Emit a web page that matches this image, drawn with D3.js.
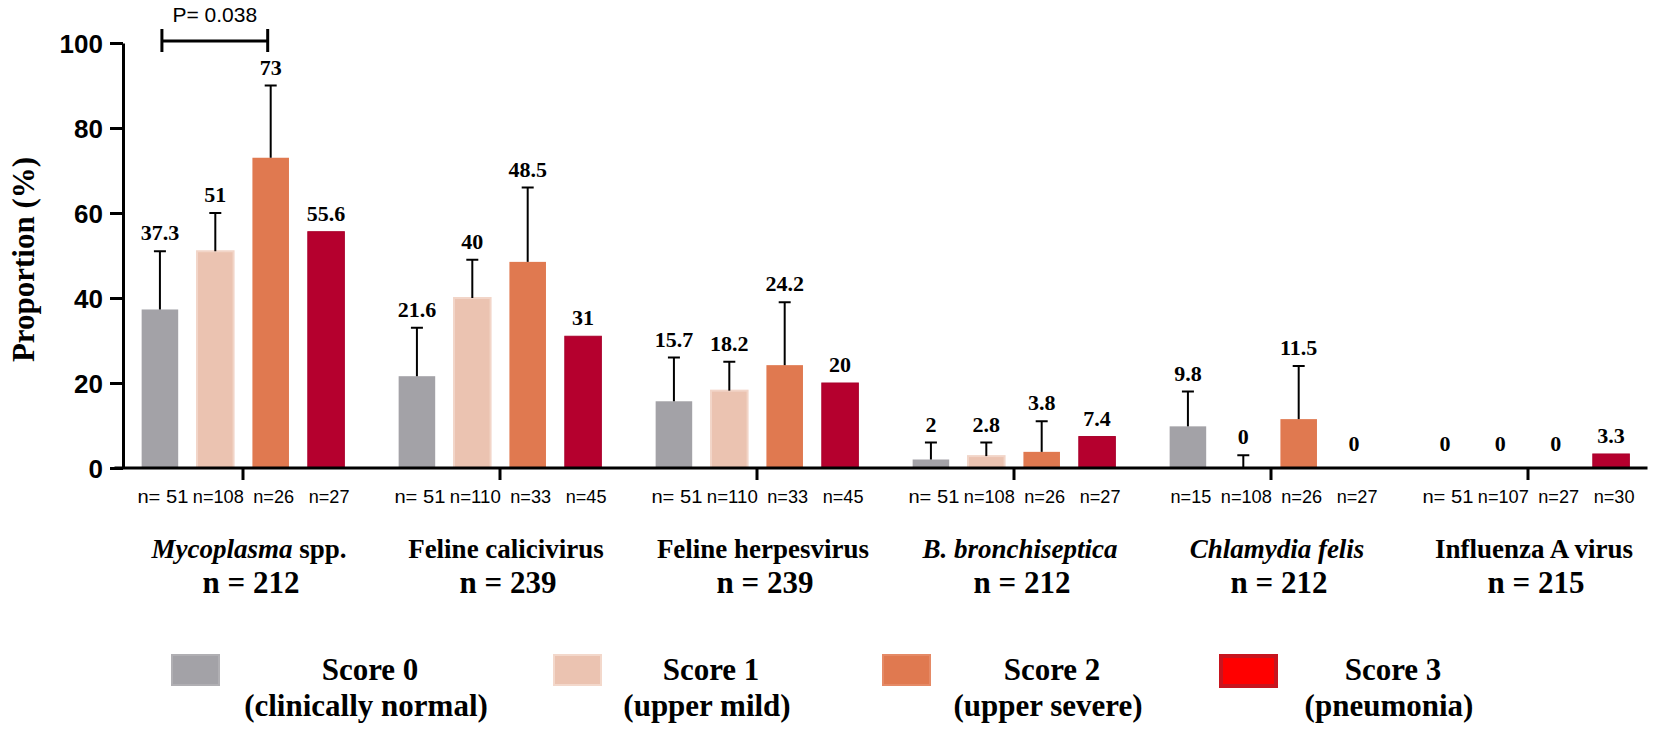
<!DOCTYPE html>
<html>
<head>
<meta charset="utf-8">
<script src="https://cdn.jsdelivr.net/npm/d3@7"></script>
<style>
  html, body { margin: 0; padding: 0; background: #fff; }
  svg { display: block; }
</style>
</head>
<body>
<svg id="chart" width="1654" height="737"></svg>
<script>
// Data
const groups = ['Mycoplasma spp.', 'Feline calicivirus', 'Feline herpesvirus', 'B. bronchiseptica', 'Chlamydia felis', 'Influenza A virus'];
const groupParts = [
    [['Mycoplasma', true], [' spp.', false]],
    [['Feline calicivirus', false]],
    [['Feline herpesvirus', false]],
    [['B. bronchiseptica', true]],
    [['Chlamydia felis', true]],
    [['Influenza A virus', false]]
];
const groupN = ['n = 212', 'n = 239', 'n = 239', 'n = 212', 'n = 212', 'n = 215'];

const scores = ['Score 0', 'Score 1', 'Score 2', 'Score 3'];
const scoreNotes = ['(clinically normal)', '(upper mild)', '(upper severe)', '(pneumonia)'];

const score0 = [37.3, 21.6, 15.7, 2, 9.8, 0];
const score1 = [51, 40, 18.2, 2.8, 0, 0];
const score2 = [73, 48.5, 24.2, 3.8, 11.5, 0];
const score3 = [55.6, 31, 20, 7.4, 0, 3.3];

// upper end of the error bars (null = none drawn)
const upper0 = [51, 33, 26, 6, 18, null];
const upper1 = [60, 49, 25, 6, 3, null];
const upper2 = [90, 66, 39, 11, 24, null];
const upper3 = [null, null, null, null, null, null];

// sample size under each bar
const n0 = ['n= 51', 'n= 51', 'n= 51', 'n= 51', 'n=15', 'n= 51'];
const n1 = ['n=108', 'n=110', 'n=110', 'n=108', 'n=108', 'n=107'];
const n2 = ['n=26', 'n=33', 'n=33', 'n=26', 'n=26', 'n=27'];
const n3 = ['n=27', 'n=45', 'n=45', 'n=27', 'n=27', 'n=30'];

const yTicks = [0, 20, 40, 60, 80, 100];
const pValue = 'P= 0.038';

// Styling
const barColors = ['#a3a2a7', '#ebc3b1', '#e07950', '#b5002e'];
const legendColors = ['#a3a2a7', '#ebc3b1', '#e07950', '#ff0000'];
const legendStroke = ['#b0afb3', '#f3d8cb', '#e58a66', '#c8141e'];
const legendSwatchX = [171, 553, 882, 1219];
const serif = "'Liberation Serif', 'Times New Roman', serif";
const sans = "'Liberation Sans', Arial, Helvetica, sans-serif";

(function () {
    'use strict';

    const values = [score0, score1, score2, score3];
    const uppers = [upper0, upper1, upper2, upper3];
    const ns = [n0, n1, n2, n3];

    const svg = d3.select('#chart');

    const y = d3.scaleLinear().domain([0, 100]).range([468, 43]);
    const x0 = d3.scaleBand().domain(groups).range([114.5, 1656.5]);
    const x1 = d3.scaleBand().domain(scores).range([0, x0.bandwidth()])
        .paddingInner(0.34).paddingOuter(0.49);
    const axisLeftX = 123;

    const bars = [];
    groups.forEach((g, gi) => {
        scores.forEach((s, si) => {
            bars.push({
                group: g, score: s, si: si,
                value: values[si][gi],
                upper: uppers[si][gi],
                n: ns[si][gi],
                cx: x0(g) + x1(s) + x1.bandwidth() / 2
            });
        });
    });

    // Bars
    svg.append('g')
        .selectAll('rect')
        .data(bars)
        .join('rect')
        .attr('x', d => x0(d.group) + x1(d.score))
        .attr('y', d => y(d.value))
        .attr('width', x1.bandwidth())
        .attr('height', d => y(0) - y(d.value))
        .attr('fill', d => barColors[d.si])
        .attr('stroke', d => d.si === 1 ? '#f2d5c8' : (d.si === 3 ? '#a8002b' : 'none'))
        .attr('stroke-width', d => d.si === 1 ? 2 : 1);

    // Error bars
    const err = svg.append('g')
        .selectAll('g')
        .data(bars.filter(d => d.upper != null))
        .join('g')
        .attr('stroke', '#000')
        .attr('stroke-width', 2);

    err.append('line')
        .attr('x1', d => d.cx).attr('x2', d => d.cx)
        .attr('y1', d => y(d.value)).attr('y2', d => y(d.upper));

    err.append('line')
        .attr('x1', d => d.cx - 6).attr('x2', d => d.cx + 6)
        .attr('y1', d => y(d.upper)).attr('y2', d => y(d.upper));

    // Value labels
    svg.append('g')
        .selectAll('text')
        .data(bars)
        .join('text')
        .attr('x', d => d.cx)
        .attr('y', d => {
            if (d.upper != null) return y(d.upper) - 11;
            if (d.value === 0) return y(0) - 17;
            return y(d.value) - 11;
        })
        .attr('text-anchor', 'middle')
        .attr('font-family', serif)
        .attr('font-weight', 'bold')
        .attr('font-size', '22px')
        .text(d => String(d.value));

    // X axis
    const xAxis = svg.append('g')
        .attr('transform', `translate(0,${y(0)})`)
        .call(d3.axisBottom(x0).tickSize(12).tickSizeOuter(0).tickFormat(''));
    xAxis.select('.domain')
        .attr('d', `M${x0.range()[0]},0H${x0.range()[1] - 9}`)
        .attr('stroke-width', 3);
    xAxis.selectAll('.tick line').attr('stroke-width', 3);

    // Y axis
    const yAxis = svg.append('g')
        .attr('transform', `translate(${axisLeftX},0)`)
        .call(d3.axisLeft(y).tickValues(yTicks).tickSize(13).tickSizeOuter(0).tickPadding(7));
    yAxis.select('.domain').attr('stroke-width', 3);
    yAxis.selectAll('.tick line').attr('stroke-width', 3);
    yAxis.selectAll('.tick text')
        .attr('font-family', sans)
        .attr('font-weight', 'bold')
        .attr('font-size', '26px')
        .attr('fill', '#000')
        .attr('dy', '0.36em');

    svg.append('text')
        .attr('transform', `translate(34,${(y(0) + y(100)) / 2 + 4}) rotate(-90)`)
        .attr('text-anchor', 'middle')
        .attr('font-family', serif)
        .attr('font-weight', 'bold')
        .attr('font-size', '31px')
        .text('Proportion (%)');

    // n under each bar
    svg.append('g')
        .selectAll('text')
        .data(bars)
        .join('text')
        .attr('x', d => d.cx + 3)
        .attr('y', 503)
        .attr('text-anchor', 'middle')
        .attr('font-family', sans)
        .attr('font-size', '19px')
        .attr('textLength', d => d.n.length * 10.2)
        .attr('lengthAdjust', 'spacingAndGlyphs')
        .text(d => d.n);

    // Group names
    const gl = svg.append('g')
        .selectAll('text')
        .data(groups)
        .join('text')
        .attr('x', (d, i) => x0(d) + x0.bandwidth() / 2 + 6)
        .attr('y', 558)
        .attr('text-anchor', 'middle')
        .attr('font-family', serif)
        .attr('font-weight', 'bold')
        .attr('font-size', '27px');

    gl.each(function (d, i) {
        const t = d3.select(this);
        groupParts[i].forEach(p => {
            t.append('tspan')
                .attr('font-style', p[1] ? 'italic' : 'normal')
                .text(p[0]);
        });
    });

    svg.append('g')
        .selectAll('text')
        .data(groups)
        .join('text')
        .attr('x', d => x0(d) + x0.bandwidth() / 2 + 8)
        .attr('y', 593)
        .attr('text-anchor', 'middle')
        .attr('font-family', serif)
        .attr('font-weight', 'bold')
        .attr('font-size', '31px')
        .text((d, i) => groupN[i]);

    // Significance bracket
    const bx1 = x0(groups[0]) + x1(scores[0]) + x1.bandwidth() / 2 + 2;
    const bx2 = x0(groups[0]) + x1(scores[2]) + x1.bandwidth() / 2 - 3;
    const by = y(100) - 2;
    const br = svg.append('g').attr('stroke', '#000').attr('stroke-width', 3);
    br.append('line').attr('x1', bx1).attr('x2', bx2).attr('y1', by).attr('y2', by);
    br.append('line').attr('x1', bx1).attr('x2', bx1).attr('y1', by - 12).attr('y2', by + 11);
    br.append('line').attr('x1', bx2).attr('x2', bx2).attr('y1', by - 12).attr('y2', by + 11);
    svg.append('text')
        .attr('x', (bx1 + bx2) / 2)
        .attr('y', 22)
        .attr('text-anchor', 'middle')
        .attr('font-family', sans)
        .attr('font-size', '21px')
        .text(pValue);

    // Legend
    const legendTextX = d3.scaleLinear().domain([0, 3]).range([370, 1393]);
    const leg = svg.append('g')
        .selectAll('g')
        .data(scores)
        .join('g');

    leg.append('rect')
        .attr('x', (d, i) => legendSwatchX[i] + (i === 3 ? 2 : 1))
        .attr('y', (d, i) => i === 3 ? 656 : 655)
        .attr('width', (d, i) => i === 3 ? 55 : 47)
        .attr('height', (d, i) => i === 3 ? 30 : 30)
        .attr('fill', (d, i) => legendColors[i])
        .attr('stroke', (d, i) => legendStroke[i])
        .attr('stroke-width', (d, i) => i === 3 ? 4 : 2);

    leg.append('text')
        .attr('x', (d, i) => legendTextX(i))
        .attr('y', 680)
        .attr('text-anchor', 'middle')
        .attr('font-family', serif)
        .attr('font-weight', 'bold')
        .attr('font-size', '31px')
        .text(d => d);

    leg.append('text')
        .attr('x', (d, i) => legendTextX(i) - 4)
        .attr('y', 716)
        .attr('text-anchor', 'middle')
        .attr('font-family', serif)
        .attr('font-weight', 'bold')
        .attr('font-size', '31px')
        .text((d, i) => scoreNotes[i]);
})();
</script>
</body>
</html>
